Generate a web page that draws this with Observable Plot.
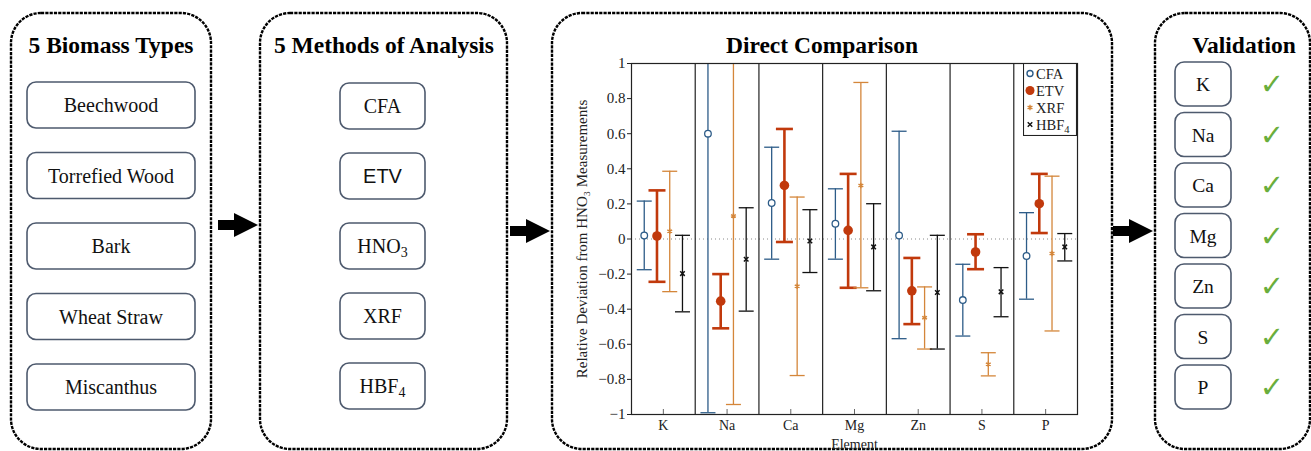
<!DOCTYPE html>
<html>
<head>
<meta charset="utf-8">
<script src="https://cdn.jsdelivr.net/npm/d3@7"></script>
<script src="https://cdn.jsdelivr.net/npm/@observablehq/plot@0.6"></script>
<style>
html,body{margin:0;padding:0;background:#fff;}
#page{position:relative;width:1311px;height:451px;overflow:hidden;}
#bg{position:absolute;left:0;top:0;}
#chart{position:absolute;left:551px;top:0;width:560px;height:451px;}
#legend{position:absolute;left:1023px;top:63px;}
</style>
</head>
<body>
<div id="page">
<svg id="bg" width="1311" height="451"></svg>
<div id="chart"></div>
<svg id="legend" width="55" height="73"></svg>
</div>
<script>
// ---------------- DATA ----------------
const elements = ["K", "Na", "Ca", "Mg", "Zn", "S", "P"];
const methodNames = ["CFA", "ETV", "XRF", "HBF₄"];
const yTicks = [-1, -0.8, -0.6, -0.4, -0.2, 0, 0.2, 0.4, 0.6, 0.8, 1];

const cfaMean = [0.02, 0.60, 0.205, 0.087, 0.02, -0.348, -0.097];
const cfaLow  = [-0.175, -0.99, -0.115, -0.115, -0.568, -0.553, -0.343];
const cfaHigh = [0.216, 2.2, 0.523, 0.286, 0.614, -0.144, 0.15];

const etvMean = [0.017, -0.354, 0.305, 0.049, -0.295, -0.074, 0.201];
const etvLow  = [-0.244, -0.509, -0.017, -0.278, -0.485, -0.172, 0.034];
const etvHigh = [0.277, -0.20, 0.627, 0.371, -0.108, 0.027, 0.371];

const xrfMean = [0.044, 0.131, -0.269, 0.305, -0.449, -0.714, -0.083];
const xrfLow  = [-0.30, -0.943, -0.778, -0.278, -0.627, -0.78, -0.524];
const xrfHigh = [0.386, 1.2, 0.239, 0.892, -0.273, -0.648, 0.358];

const hbfMean = [-0.197, -0.115, -0.011, -0.045, -0.305, -0.301, -0.045];
const hbfLow  = [-0.415, -0.411, -0.191, -0.295, -0.627, -0.443, -0.125];
const hbfHigh = [0.021, 0.178, 0.167, 0.201, 0.021, -0.163, 0.031];

const biomassTypes = ["Beechwood", "Torrefied Wood", "Bark", "Wheat Straw", "Miscanthus"];
const analysisMethods = [
  {text: "CFA"}, {text: "ETV", sans: true}, {text: "HNO", sub: "3"}, {text: "XRF"}, {text: "HBF", sub: "4"}
];
const panelTitles = ["5 Biomass Types", "5 Methods of Analysis", "Direct Comparison", "Validation"];

// ---------------- STYLES ----------------
const serif = "'Liberation Serif', 'Times New Roman', serif";
const styles = [
  {color: "#2d5c88", w: 1.3, cap: 7.5},
  {color: "#c1390c", w: 2.6, cap: 8.5},
  {color: "#d4863a", w: 1.3, cap: 7.5},
  {color: "#111111", w: 1.3, cap: 7.5}
];
const series = [
  {name: methodNames[0], mean: cfaMean, lo: cfaLow, hi: cfaHigh},
  {name: methodNames[1], mean: etvMean, lo: etvLow, hi: etvHigh},
  {name: methodNames[2], mean: xrfMean, lo: xrfLow, hi: xrfHigh},
  {name: methodNames[3], mean: hbfMean, lo: hbfLow, hi: hbfHigh}
];
const spacing = 0.2;
const rows = series.flatMap((s, k) => elements.map((e, i) => ({
  element: e, method: s.name, k,
  x: i + (k - (series.length - 1) / 2) * spacing,
  mean: s.mean[i], lo: s.lo[i], hi: s.hi[i]
})));

const capSymbol = {draw(ctx, size) { const w = Math.sqrt(size / Math.PI); ctx.moveTo(-w, 0); ctx.lineTo(w, 0); }};

const errorMarks = series.flatMap((s, k) => {
  const d = rows.filter(r => r.k === k);
  const st = styles[k];
  return [
    Plot.ruleX(d, {x: "x", y1: "lo", y2: "hi", stroke: st.color, strokeWidth: st.w, clip: true}),
    Plot.dot(d, {x: "x", y: "lo", symbol: capSymbol, r: st.cap, stroke: st.color, strokeWidth: st.w, clip: true}),
    Plot.dot(d, {x: "x", y: "hi", symbol: capSymbol, r: st.cap, stroke: st.color, strokeWidth: st.w, clip: true})
  ];
});
const byK = k => rows.filter(r => r.k === k);
const pointMarks = [
  Plot.dot(byK(0), {x: "x", y: "mean", r: 3.3, stroke: styles[0].color, fill: "white", strokeWidth: 1.3}),
  Plot.dot(byK(1), {x: "x", y: "mean", r: 4.8, fill: styles[1].color, stroke: "none"}),
  Plot.dot(byK(2), {x: "x", y: "mean", symbol: "asterisk", r: 2.6, stroke: styles[2].color, strokeWidth: 1.4}),
  Plot.dot(byK(3), {x: "x", y: "mean", symbol: "times", r: 2.2, stroke: styles[3].color, strokeWidth: 1.5})
];

const idx = elements.map((e, i) => i);
const chart = Plot.plot({
  width: 560, height: 451,
  marginLeft: 80, marginRight: 34, marginTop: 63, marginBottom: 37,
  style: {fontFamily: serif, fontSize: "14px", color: "#222", background: "transparent"},
  x: {domain: [-0.5, elements.length - 0.5]},
  y: {domain: [-1, 1]},
  marks: [
    Plot.ruleY([0], {stroke: "#888", strokeDasharray: "1,3", strokeWidth: 1}),
    Plot.ruleX(d3.range(1, elements.length), {x: i => i - 0.5, stroke: "#222", strokeWidth: 1.2}),
    ...errorMarks,
    ...pointMarks,
    Plot.frame({stroke: "#222", strokeWidth: 1.2}),
    Plot.axisY({ticks: yTicks, tickFormat: d => d3.format("~g")(d), tickSize: 4, tickPadding: 2,
      label: "Relative Deviation from HNO₃ Measurements", labelAnchor: "center", labelOffset: 55, labelArrow: "none", fontSize: "15px"}),
    Plot.axisX({ticks: idx, tickFormat: () => "", tickSize: -5, label: null, stroke: "#666"}),
    Plot.axisX({ticks: idx, tickFormat: i => elements[i], tickSize: 0, tickPadding: 6,
      label: "Element", labelAnchor: "center", labelOffset: 34, labelArrow: "none"})
  ]
});
document.getElementById("chart").appendChild(chart);

// ---------------- LEGEND ----------------
const lg = d3.select("#legend");
lg.append("rect").attr("x", 0.5).attr("y", 0.5).attr("width", 53).attr("height", 72).attr("fill", "white").attr("stroke", "#222").attr("stroke-width", 1.1);
const legendSymbols = [
  {sym: d3.symbolCircle, r: 3, fill: "white", stroke: styles[0].color},
  {sym: d3.symbolCircle, r: 4.5, fill: styles[1].color, stroke: "none"},
  {sym: d3.symbolAsterisk, r: 2.6, fill: "none", stroke: styles[2].color},
  {sym: d3.symbolTimes, r: 2.2, fill: "none", stroke: styles[3].color}
];
methodNames.forEach((m, k) => {
  const cy = 10.5 + k * 17;
  const s = legendSymbols[k];
  lg.append("path").attr("transform", `translate(7,${cy})`)
    .attr("d", d3.symbol(s.sym, s.r * s.r * Math.PI)())
    .attr("fill", s.fill).attr("stroke", s.stroke).attr("stroke-width", 1.4);
  const t = lg.append("text").attr("x", 13).attr("y", cy + 5).attr("font-family", serif).attr("font-size", 14.5).attr("fill", "#222");
  if (m.endsWith("₄")) {
    t.append("tspan").text("HBF");
    t.append("tspan").attr("font-size", 10.5).attr("dy", 3).text("4");
  } else t.text(m);
});

// ---------------- DIAGRAM ----------------
const bg = d3.select("#bg");
const panels = [[11, 200, 111], [260, 247, 384], [552, 560, 822], [1155, 155, 1244]];
panels.forEach(([x, w, cx], i) => {
  bg.append("rect").attr("x", x).attr("y", 13).attr("width", w).attr("height", 436).attr("rx", 30)
    .attr("fill", "none").attr("stroke", "#000").attr("stroke-width", 2.4).attr("stroke-dasharray", "3.2 1.1");
  bg.append("text").attr("x", cx).attr("y", 53).attr("text-anchor", "middle")
    .attr("font-family", serif).attr("font-weight", "bold").attr("font-size", 23.5).attr("fill", "#000").text(panelTitles[i]);
});
function box(x, y, w, h) {
  bg.append("rect").attr("x", x).attr("y", y).attr("width", w).attr("height", h).attr("rx", 9)
    .attr("fill", "white").attr("stroke", "#4e5a6e").attr("stroke-width", 1.6);
}
biomassTypes.forEach((b, i) => {
  const y = 82 + i * 70.5;
  box(27, y, 168, 46);
  bg.append("text").attr("x", 111).attr("y", y + 30).attr("text-anchor", "middle")
    .attr("font-family", serif).attr("font-size", 20).attr("fill", "#111").text(b);
});
analysisMethods.forEach((m, i) => {
  const y = 83 + i * 70;
  box(340, y, 85, 46);
  const t = bg.append("text").attr("x", 382.5).attr("y", y + 30).attr("text-anchor", "middle")
    .attr("font-family", m.sans ? "'Liberation Sans', Arial, sans-serif" : serif).attr("font-size", 20).attr("fill", "#111");
  t.append("tspan").text(m.text);
  if (m.sub) t.append("tspan").attr("font-size", 14).attr("dy", 4).text(m.sub);
});
elements.forEach((e, i) => {
  const y = 62 + i * 50.5;
  box(1175, y, 56, 44);
  bg.append("text").attr("x", 1203).attr("y", y + 29).attr("text-anchor", "middle")
    .attr("font-family", serif).attr("font-size", 19.5).attr("fill", "#111").text(e);
  bg.append("text").attr("x", 1272).attr("y", y + 32).attr("text-anchor", "middle")
    .attr("font-family", "'DejaVu Sans', sans-serif").attr("font-weight", "bold").attr("font-size", 29).attr("fill", "#6aae3c").text("✓");
});
function arrow(x0, xh, x1, cy) {
  bg.append("path").attr("d", `M${x0},${cy - 5}L${xh},${cy - 5}L${xh},${cy - 12}L${x1},${cy}L${xh},${cy + 12}L${xh},${cy + 5}L${x0},${cy + 5}Z`).attr("fill", "#000");
}
arrow(218, 234, 258, 225);
arrow(510, 526, 550, 231);
arrow(1113, 1129, 1153, 231);
</script>
</body>
</html>
